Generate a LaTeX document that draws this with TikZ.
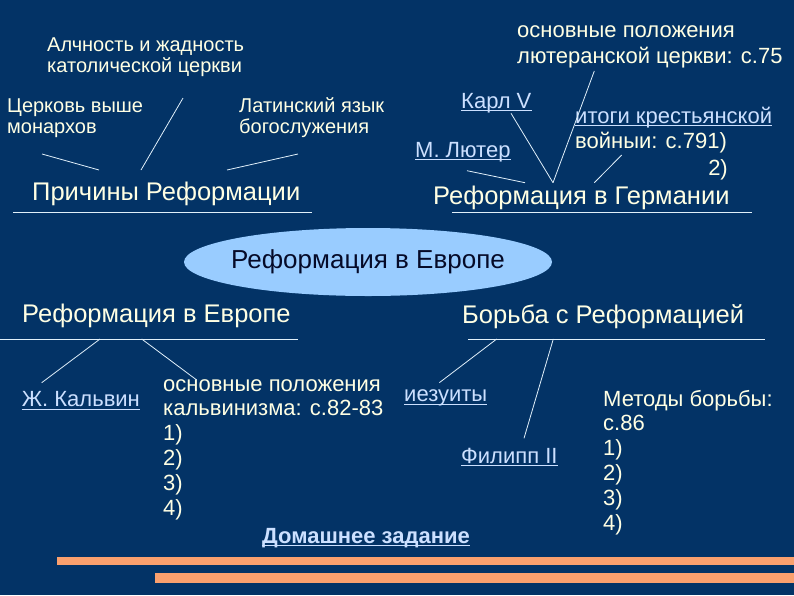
\documentclass[tikz,border=0pt]{standalone}
\usepackage{fontspec}
\setmainfont{Liberation Sans}
\usetikzlibrary{shapes.geometric}
\definecolor{bgc}{RGB}{3,51,102}
\definecolor{txt}{RGB}{255,255,228}
\definecolor{lnk}{RGB}{204,224,255}
\definecolor{lnc}{RGB}{225,240,250}
\definecolor{ellc}{RGB}{153,204,255}
\definecolor{orng}{RGB}{250,160,110}
\definecolor{dark}{RGB}{5,10,40}
\begin{document}
\begin{tikzpicture}[x=1pt,y=-1pt,
  every node/.style={inner sep=0pt, anchor=base west},
  tsmall/.style={text=txt, font=\fontsize{20}{24}\selectfont},
  tmid/.style={text=txt, font=\fontsize{22}{25}\selectfont},
  tbig/.style={text=txt, font=\fontsize{25.5}{30}\selectfont},
  lk/.style={text=lnk, font=\fontsize{22}{25}\selectfont},
  conn/.style={draw=lnc, line width=0.8pt},
  uline/.style={draw=lnc, line width=1pt},
  lkline/.style={draw=lnk, line width=1pt},
  bar/.style={fill=orng}]
\fill[bgc] (0,0) rectangle (794,595);
\useasboundingbox (0,0) rectangle (794,595);

% top left
\node[tsmall] (a1) at (47,51) {Алчность и жадность};
\node[tsmall] (a2) at (47,72.7) {католической церкви};
\node[tsmall] (c1) at (7,112.7) {Церковь выше};
\node[tsmall] (c2) at (7,133) {монархов};
\node[tsmall] (l1) at (239,112.7) {Латинский язык};
\node[tsmall] (l2) at (239,133) {богослужения};
\node[tbig] (prich) at (32,200) {Причины Реформации};

% top right
\node[tmid] (o1) at (517,37.7) {основные положения};
\node[tmid] (o2) at (517,63.3) {лютеранской церкви: с.75};
\node[lk] (karl) at (461,108.3) {Карл V};
\node[lk] (luth) at (415,157.3) {М. Лютер};
\node[lk] (it1) at (575,123.3) {итоги крестьянской};
\node[tmid] (it2) at (575,148.3) {войныи: с.791)};
\node[tmid, anchor=base east] (it3) at (728,175) {2)};
\node[tbig] (germ) at (433,204) {Реформация в Германии};

% ellipse
\node[ellipse, fill=ellc, minimum width=368pt, minimum height=68pt, anchor=center] (ell) at (368,262) {};
\node[anchor=center, text=dark, font=\fontsize{26}{30}\selectfont] (elltext) at (ell.center) {Реформация в Европе};

% middle titles
\node[tbig] (eur) at (22,322.7) {Реформация в Европе};
\node[tbig] (borb) at (462,323.3) {Борьба с Реформацией};

% bottom left
\node[lk] (kalv) at (21.7,406.7) {Ж. Кальвин};
\node[tmid] (k1) at (163,391.7) {основные положения};
\node[tmid] (k2) at (163,415.5) {кальвинизма: с.82-83};
\node[tmid] (k3) at (163,440) {1)};
\node[tmid] (k4) at (163,465) {2)};
\node[tmid] (k5) at (163,490) {3)};
\node[tmid] (k6) at (163,515) {4)};

% bottom right
\node[lk] (iez) at (404,401.7) {иезуиты};
\node[lk] (fil) at (461,463) {Филипп II};
\node[tmid] (m1) at (603,406.7) {Методы борьбы:};
\node[tmid] (m2) at (603,430) {с.86};
\node[tmid] (m3) at (603,455) {1)};
\node[tmid] (m4) at (603,480) {2)};
\node[tmid] (m5) at (603,505) {3)};
\node[tmid] (m6) at (603,530) {4)};

\node[text=lnk, font=\fontsize{22}{26}\selectfont\bfseries] (home) at (262,543.3) {Домашнее задание};

% link underlines
\foreach \n in {karl,luth,it1,kalv,iez,fil,home}
  \draw[lkline] ([yshift=-2.5pt]\n.base west) -- ([yshift=-2.5pt]\n.base east);

% title underlines
\coordinate (u1a) at (13,212);  \coordinate (u1b) at (312,212);
\coordinate (u2a) at (452,212); \coordinate (u2b) at (752,212);
\coordinate (u3a) at (0,339);   \coordinate (u3b) at (298,339);
\coordinate (u4a) at (468,339); \coordinate (u4b) at (765,339);
\draw[uline] (u1a) -- (u1b);
\draw[uline] (u2a) -- (u2b);
\draw[uline] (u3a) -- (u3b);
\draw[uline] (u4a) -- (u4b);

% connectors
\coordinate (p1a) at (42,154);   \coordinate (p1b) at (99,170);
\coordinate (p2a) at (183,98);   \coordinate (p2b) at (141,170);
\coordinate (p3a) at (227,170);  \coordinate (p3b) at (298,154);
\draw[conn] (p1a) -- (p1b);
\draw[conn] (p2a) -- (p2b);
\draw[conn] (p3a) -- (p3b);

\coordinate (g1a) at (467,170.7); \coordinate (g1b) at (525,182.7);
\coordinate (g2a) at (511,113.3); \coordinate (gm) at (553,182.7);
\coordinate (g3a) at (594.3,71);
\coordinate (g4a) at (621.7,155); \coordinate (g4b) at (594.3,182.7);
\draw[conn] (g1a) -- (g1b);
\draw[conn] (g2a) -- (gm);
\draw[conn] (g3a) -- (gm);
\draw[conn] (g4a) -- (g4b);

\coordinate (e1a) at (100,339);   \coordinate (e1b) at (41.7,382.7);
\coordinate (e2a) at (141.7,339); \coordinate (e2b) at (196.7,380);
\coordinate (b1a) at (496.7,339); \coordinate (b1b) at (439.3,382.7);
\coordinate (b2a) at (553.3,339); \coordinate (b2b) at (524,438.3);
\draw[conn] (e1a) -- (e1b);
\draw[conn] (e2a) -- (e2b);
\draw[conn] (b1a) -- (b1b);
\draw[conn] (b2a) -- (b2b);

% orange bars
\fill[bar] (57,556.7) rectangle (794,565);
\fill[bar] (155,573.3) rectangle (794,582.7);
\end{tikzpicture}
\end{document}
